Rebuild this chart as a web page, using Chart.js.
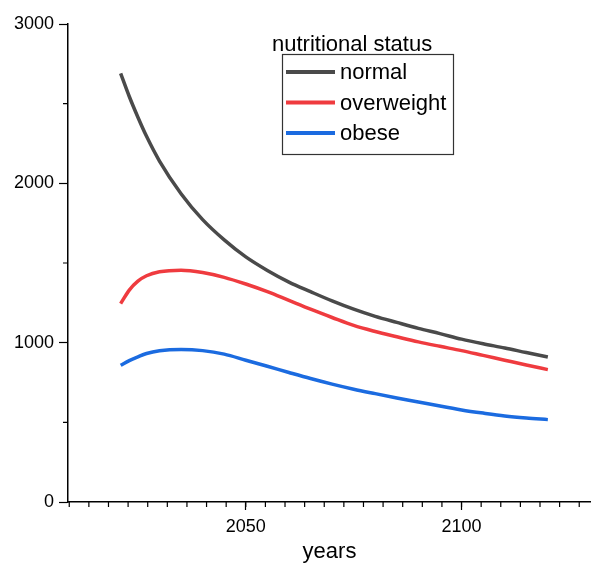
<!DOCTYPE html>
<html lang="en">
  <head>
    <meta charset="UTF-8" />
    <script src="https://cdn.jsdelivr.net/npm/chart.js@4.4.0/dist/chart.umd.min.js"></script>
    <title>nutritional status</title>
    <style>
      body {
        margin: 0;
        padding: 0;
        background: white;
      }
    </style>
  </head>
  <body>
    <canvas id="chart" width="591" height="565"></canvas>
    <script>
      const years = [2021, 2023, 2025, 2027, 2030, 2035, 2040, 2045, 2050, 2055, 2060, 2065, 2070, 2075, 2080, 2085, 2090, 2095, 2100, 2105, 2110, 2115, 2120]
      const normal = [2690, 2545, 2415, 2295, 2140, 1935, 1772, 1645, 1538, 1453, 1380, 1320, 1262, 1210, 1165, 1127, 1090, 1057, 1022, 993, 967, 938, 910]
      const overweight = [1245, 1330, 1386, 1420, 1445, 1455, 1440, 1410, 1368, 1320, 1265, 1210, 1158, 1108, 1070, 1037, 1005, 977, 950, 920, 890, 860, 831]
      const obese = [858, 887, 911, 932, 949, 957, 950, 928, 890, 852, 813, 775, 740, 708, 680, 653, 628, 602, 578, 558, 540, 527, 517]
      const xTicks = [2050, 2100]
      const yTicks = [0, 1000, 2000, 3000]
      const legendTitle = 'nutritional status'

      const font = "'Liberation Sans', Arial, sans-serif"
      const colors = ['#4a4a4a', '#ef3b3f', '#1b6be0']

      const toPoints = (vals) => years.map((y, i) => ({ x: y, y: vals[i] }))

      // minor ticks + boxed legend, drawn after the chart
      const extras = {
        id: 'extras',
        afterDraw(chart) {
          const c = chart.ctx
          const xs = chart.scales.x
          const ys = chart.scales.y
          const area = chart.chartArea
          c.save()
          c.strokeStyle = '#000'
          c.lineWidth = 1.2
          c.beginPath()
          const step = 50 / 11
          for (let v = xTicks[0] - step * 12; v <= xs.max; v += step) {
            if (v < xs.min) continue
            const px = xs.getPixelForValue(v)
            c.moveTo(px, area.bottom)
            c.lineTo(px, area.bottom + 5)
          }
          for (let v = 500; v < ys.max; v += 1000) {
            const py = ys.getPixelForValue(v)
            c.moveTo(area.left, py)
            c.lineTo(area.left - 5, py)
          }
          c.stroke()

          // legend
          const names = chart.data.datasets.map((d) => d.label)
          c.font = '22px ' + font
          c.fillStyle = '#000'
          c.textBaseline = 'alphabetic'
          c.fillText(legendTitle, 272, 51)
          c.strokeStyle = '#333'
          c.lineWidth = 1.2
          c.strokeRect(282.5, 54.5, 171, 100)
          c.textBaseline = 'middle'
          names.forEach((n, i) => {
            const y = 72 + i * 30.5
            c.strokeStyle = colors[i]
            c.lineWidth = 4
            c.beginPath()
            c.moveTo(286, y)
            c.lineTo(335, y)
            c.stroke()
            c.fillStyle = '#000'
            c.fillText(n, 340, y + 1)
          })
          c.restore()
        },
      }

      new Chart(document.getElementById('chart'), {
        type: 'line',
        data: {
          datasets: [
            { label: 'normal', data: toPoints(normal) },
            { label: 'overweight', data: toPoints(overweight) },
            { label: 'obese', data: toPoints(obese) },
          ].map((d, i) => ({
            ...d,
            borderColor: colors[i],
            backgroundColor: colors[i],
            borderWidth: 3.5,
            pointRadius: 0,
            cubicInterpolationMode: 'monotone',
            fill: false,
          })),
        },
        options: {
          responsive: false,
          animation: false,
          devicePixelRatio: 1,
          layout: { padding: { top: 24, right: 0, left: 0, bottom: 0 } },
          plugins: {
            legend: { display: false },
            tooltip: { enabled: false },
          },
          scales: {
            x: {
              type: 'linear',
              min: 2008.8,
              max: 2130,
              afterBuildTicks: (s) => {
                s.ticks = xTicks.map((v) => ({ value: v }))
              },
              afterFit: (s) => {
                s.height = 63
              },
              grid: {
                drawOnChartArea: false,
                tickLength: 8,
                tickColor: '#000',
                tickWidth: 1.2,
              },
              border: { color: '#000', width: 1.5 },
              ticks: {
                color: '#000',
                padding: 6,
                maxRotation: 0,
                callback: (v) => String(v),
                font: { family: font, size: 18 },
              },
              title: {
                display: true,
                text: 'years',
                color: '#000',
                padding: { top: 0, bottom: 0 },
                font: { family: font, size: 22 },
              },
            },
            y: {
              min: 0,
              max: 3000,
              afterBuildTicks: (s) => {
                s.ticks = yTicks.map((v) => ({ value: v }))
              },
              afterFit: (s) => {
                s.width = 68
              },
              grid: {
                drawOnChartArea: false,
                tickLength: 9,
                tickColor: '#000',
                tickWidth: 1.2,
              },
              border: { color: '#000', width: 1.5 },
              ticks: {
                color: '#000',
                padding: 5,
                callback: (v) => String(v),
                font: { family: font, size: 18 },
              },
            },
          },
        },
        plugins: [extras],
      })
    </script>
  </body>
</html>
